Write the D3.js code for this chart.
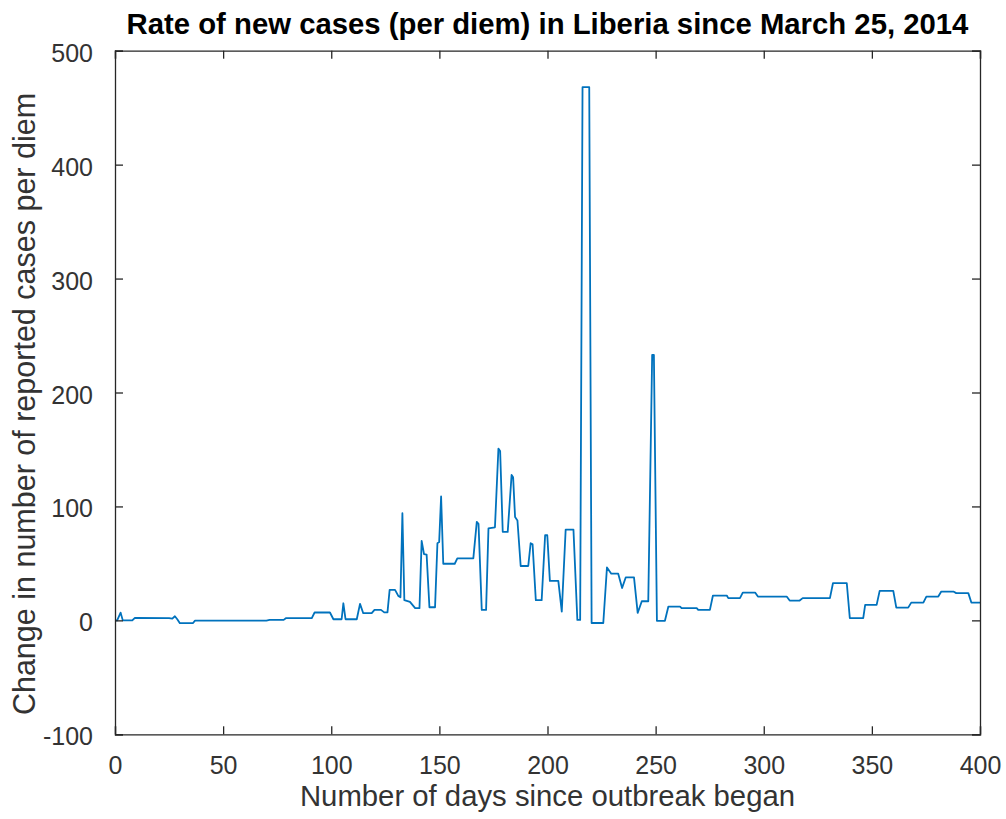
<!DOCTYPE html>
<html>
<head>
<meta charset="utf-8">
<script src="https://cdn.jsdelivr.net/npm/d3@7"></script>
<style>
  html, body { margin: 0; padding: 0; background: #fff; }
  svg { display: block; font-family: "Liberation Sans", Arial, Helvetica, sans-serif; }
</style>
</head>
<body>
<svg id="chart" width="1006" height="819"></svg>
<script>
// ---- data ----
const days = [0, 1, 2.6, 3.6, 8, 9.2, 25, 26.5, 27.7, 28.8, 30, 36, 37, 70, 71.5, 78, 79, 91, 92.3, 99.4,
  101, 104.8, 105.6, 106.6, 111.8, 113.3, 114.8, 118.7, 120, 123, 124.5, 126, 127, 129.5, 131, 132,
  132.9, 133.8, 136.4, 138.8, 140.8, 141.8, 142.9, 144.1, 145.4, 148, 149.1, 149.9, 150.8, 151.8,
  157.1, 158.3, 165.7, 167.3, 168.1, 169.6, 171.6, 172.7, 175.7, 177.3, 178.1, 179.3, 181.6, 183.4,
  184.1, 185, 186.1, 187.6, 191.1, 192.2, 193.1, 194.6, 197.3, 198.9, 199.9, 201.1, 205, 206.6, 208.4,
  212, 213.8, 215.1, 216.2, 219.3, 220.4, 225.8, 227.5, 229.5, 232.7, 234.5, 236.2, 240, 241.7, 243.6,
  246.6, 248.4, 249.2, 250.6, 254.3, 255.9, 261.3, 262, 269, 269.7, 275.1, 276.5, 282.9, 283.6, 289,
  290.3, 296, 297.3, 310.6, 312, 316.6, 318, 330.6, 332, 338.4, 339.8, 346, 346.9, 352.2, 353.6, 359.9,
  361.3, 366.8, 368.2, 373.8, 375.2, 380.7, 382.1, 387.7, 389, 394.6, 396, 400];
const newCases = [0, 0, 6.8, 0, 0, 2.2, 2, 1.5, 3.6, 1, -2.5, -2.5, -0.3, -0.3, 0.4, 0.4, 1.9, 1.9, 6.9, 6.9,
  1, 1, 15, 1, 1, 14.5, 6.3, 6.3, 9.2, 9.2, 7, 7, 26.8, 26.8, 21.5, 20.3,
  94, 17.7, 16.2, 10.7, 10.7, 69.7, 58.2, 57.7, 11.5, 11.5, 67.7, 68.7, 108.7, 49.7,
  49.7, 54.4, 54.4, 86.4, 84.7, 9.2, 9.2, 80.7, 81.7, 150.7, 148.7, 77.7, 77.7, 127.7,
  125.7, 90.7, 87.7, 47.7, 47.7, 67.7, 66.7, 17.7, 17.7, 74.7, 74.7, 34.7, 34.7, 7.7, 79.7,
  79.7, 0.4, 0.4, 468, 468, -2.3, -2.3, 46.5, 41, 41, 28.4, 37.8, 37.8, 6.5, 16.8,
  16.8, 233, 233, -0.4, -0.4, 12.1, 12.1, 10.7, 10.7, 9.2, 9.2, 21.8, 21.8, 19.5, 19.5,
  24.4, 24.4, 20.9, 20.9, 17.4, 17.4, 19.5, 19.5, 32.6, 32.6, 1.9, 1.9, 13.6, 13.6, 25.9, 25.9,
  11.2, 11.2, 15.6, 15.6, 20.9, 20.9, 25.3, 25.3, 23.9, 23.9, 15.6, 15.6];
const xTicks = [0, 50, 100, 150, 200, 250, 300, 350, 400];
const yTicks = [-100, 0, 100, 200, 300, 400, 500];
const titleText = "Rate of new cases (per diem) in Liberia since March 25, 2014";
const xLabelText = "Number of days since outbreak began";
const yLabelText = "Change in number of reported cases per diem";

// ---- layout ----
const svg = d3.select("#chart");
const margin = { left: 115, right: 26, top: 50.7, bottom: 84.7 };
const W = 1006, H = 819;
const x = d3.scaleLinear().domain([0, 400]).range([margin.left, W - margin.right]);
const y = d3.scaleLinear().domain([-100, 500]).range([H - margin.bottom, margin.top]);
const axisColor = "#262626";
const fmt = d => String(d);   // plain hyphen-minus like the reference

svg.append("rect").attr("width", W).attr("height", H).attr("fill", "#fff");

// data line
const pts = days.map((d, i) => [d, newCases[i]]);
svg.append("path")
  .datum(pts)
  .attr("fill", "none")
  .attr("stroke", "#0072BD")
  .attr("stroke-width", 1.8)
  .attr("stroke-linejoin", "round")
  .attr("d", d3.line().x(d => x(d[0])).y(d => y(d[1])));

// axes (ticks inside, box)
const tickLen = 8;
const gB = svg.append("g").attr("transform", `translate(0,${y(-100)})`)
  .call(d3.axisBottom(x).tickValues(xTicks).tickSize(-tickLen).tickPadding(tickLen + 14).tickFormat(fmt));
const gT = svg.append("g").attr("transform", `translate(0,${y(500)})`)
  .call(d3.axisTop(x).tickValues(xTicks).tickSize(-tickLen).tickFormat(""));
const gL = svg.append("g").attr("transform", `translate(${x(0)},0)`)
  .call(d3.axisLeft(y).tickValues(yTicks).tickSize(-tickLen).tickPadding(tickLen + 14).tickFormat(fmt));
const gR = svg.append("g").attr("transform", `translate(${x(400)},0)`)
  .call(d3.axisRight(y).tickValues(yTicks).tickSize(-tickLen).tickFormat(""));

[gB, gT, gL, gR].forEach(g => {
  g.select(".domain").attr("stroke", axisColor).attr("stroke-width", 1.3);
  g.selectAll(".tick line").attr("stroke", axisColor).attr("stroke-width", 1.3);
  g.selectAll(".tick text").attr("fill", "#333").attr("font-size", 25)
    .attr("font-family", '"Liberation Sans", Arial, sans-serif');
});
gL.selectAll(".tick text").attr("dy", "0.42em");

// title
svg.append("text")
  .attr("x", (x(0) + x(400)) / 2).attr("y", 34)
  .attr("text-anchor", "middle")
  .attr("font-size", 29.3).attr("font-weight", "bold").attr("fill", "#000")
  .text(titleText);

// x label
svg.append("text")
  .attr("x", (x(0) + x(400)) / 2).attr("y", 806)
  .attr("text-anchor", "middle")
  .attr("font-size", 29.3).attr("fill", "#333")
  .text(xLabelText);

// y label
svg.append("text")
  .attr("transform", `translate(35,404) rotate(-90)`)
  .attr("text-anchor", "middle")
  .attr("font-size", 30.5).attr("fill", "#333")
  .text(yLabelText);
</script>
</body>
</html>
